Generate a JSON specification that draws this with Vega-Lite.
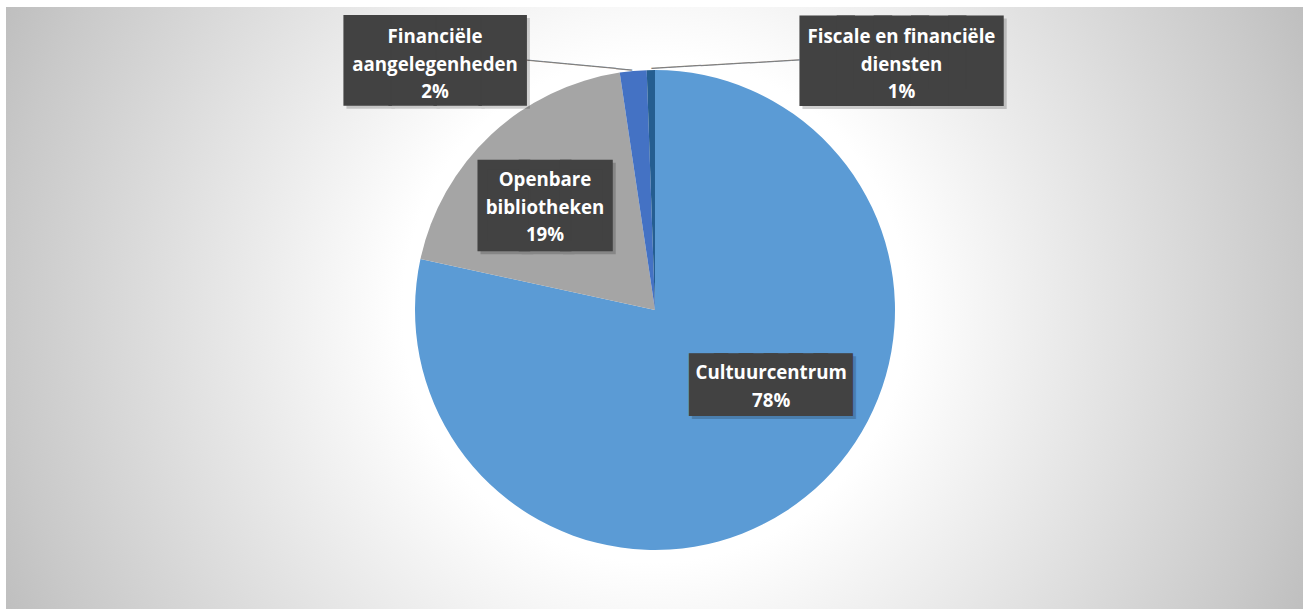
{
  "$schema": "https://vega.github.io/schema/vega-lite/v6.json",
  "width": 1298,
  "height": 606,
  "autosize": {"type": "none"},
  "padding": {"left": 6, "top": 7, "right": 0, "bottom": 0},
  "background": "#ffffff",
  "view": {
    "stroke": null,
    "fill": {
      "gradient": "radial",
      "x1": 0.5, "y1": 0.5, "r1": 0,
      "x2": 0.5, "y2": 0.5, "r2": 0.555,
      "stops": [
        {"offset": 0, "color": "#ffffff"},
        {"offset": 0.35, "color": "#ffffff"},
        {"offset": 0.9, "color": "#c9c9c9"},
        {"offset": 1, "color": "#bebebe"}
      ]
    }
  },
  "data": {
    "values": [
      {"categorie": "Cultuurcentrum", "etiket": "Cultuurcentrum", "waarde": 78.4},
      {"categorie": "Openbare bibliotheken", "etiket": "Openbare\nbibliotheken", "waarde": 19.25},
      {"categorie": "Financiële aangelegenheden", "etiket": "Financiële\naangelegenheden", "waarde": 1.8},
      {"categorie": "Fiscale en financiële diensten", "etiket": "Fiscale en financiële\ndiensten", "waarde": 0.55}
    ]
  },
  "transform": [
    {"stack": "waarde", "groupby": [], "sort": [{"field": "waarde", "order": "descending"}], "as": ["v0", "v1"]},
    {"calculate": "(datum.v0 + datum.v1) / 2", "as": "midden"},
    {"calculate": "datum.etiket + '\\n' + format(datum.waarde / 100, '.0%')", "as": "tekst"}
  ],
  "layer": [
    {
      "mark": {"type": "arc", "outerRadius": 240, "innerRadius": 0},
      "encoding": {
        "theta": {"field": "v0", "type": "quantitative", "scale": {"domain": [0, 100]}, "stack": null},
        "theta2": {"field": "v1"},
        "color": {
          "field": "categorie", "type": "nominal", "legend": null,
          "scale": {
            "domain": ["Cultuurcentrum", "Openbare bibliotheken", "Financiële aangelegenheden", "Fiscale en financiële diensten"],
            "range": ["#5B9BD5", "#A5A5A5", "#4472C4", "#255E91"]
          }
        }
      }
    },
    {
      "transform": [{"filter": "datum.categorie === 'Financiële aangelegenheden'"}],
      "mark": {"type": "text", "text": "─────────────", "font": "DejaVu Sans Mono", "fontSize": 13.5, "fill": "#808080", "radius": 245, "angle": 5.4, "dx": -53.05, "dy": 4.71, "align": "center", "baseline": "middle"},
      "encoding": {"theta": {"field": "midden", "type": "quantitative", "scale": {"domain": [0, 100]}, "stack": null}}
    },
    {
      "transform": [{"filter": "datum.categorie === 'Fiscale en financiële diensten'"}],
      "mark": {"type": "text", "text": "──────────────────", "font": "DejaVu Sans Mono", "fontSize": 13.66, "fill": "#808080", "radius": 245, "angle": -3.2, "dx": 74.63, "dy": 3.93, "align": "center", "baseline": "middle"},
      "encoding": {"theta": {"field": "midden", "type": "quantitative", "scale": {"domain": [0, 100]}, "stack": null}}
    },
    {
      "transform": [{"filter": "datum.categorie === 'Cultuurcentrum'"}],
      "mark": {"type": "text", "text": "██████", "font": "DejaVu Sans Mono", "fontSize": 41.4, "fill": "#000000", "stroke": "#000000", "strokeWidth": 13.8, "strokeJoin": "miter", "opacity": 0.18, "radius": 131, "dx": 37, "dy": -22.1, "align": "center", "baseline": "middle"},
      "encoding": {"theta": {"field": "midden", "type": "quantitative", "scale": {"domain": [0, 100]}, "stack": null}}
    },
    {
      "transform": [{"filter": "datum.categorie === 'Openbare bibliotheken'"}],
      "mark": {"type": "text", "text": "███", "font": "DejaVu Sans Mono", "fontSize": 68.5, "fill": "#000000", "stroke": "#000000", "strokeWidth": 10.2, "strokeJoin": "miter", "opacity": 0.18, "radius": 152, "dx": -3.1, "dy": 12.2, "align": "center", "baseline": "middle"},
      "encoding": {"theta": {"field": "midden", "type": "quantitative", "scale": {"domain": [0, 100]}, "stack": null}}
    },
    {
      "transform": [{"filter": "datum.categorie === 'Financiële aangelegenheden'"}],
      "mark": {"type": "text", "text": "████", "font": "DejaVu Sans Mono", "fontSize": 74.8, "fill": "#000000", "stroke": "#000000", "strokeWidth": 2, "strokeJoin": "miter", "opacity": 0.18, "radius": 250, "dx": -194.25, "dy": 5.9, "align": "center", "baseline": "middle"},
      "encoding": {"theta": {"field": "midden", "type": "quantitative", "scale": {"domain": [0, 100]}, "stack": null}}
    },
    {
      "transform": [{"filter": "datum.categorie === 'Fiscale en financiële diensten'"}],
      "mark": {"type": "text", "text": "█████", "font": "DejaVu Sans Mono", "fontSize": 61.8, "fill": "#000000", "stroke": "#000000", "strokeWidth": 17.1, "strokeJoin": "miter", "opacity": 0.18, "radius": 250, "dx": 253.8, "dy": 6.3, "align": "center", "baseline": "middle"},
      "encoding": {"theta": {"field": "midden", "type": "quantitative", "scale": {"domain": [0, 100]}, "stack": null}}
    },
    {
      "transform": [{"filter": "datum.categorie === 'Cultuurcentrum'"}],
      "mark": {"type": "text", "text": "██████", "font": "DejaVu Sans Mono", "fontSize": 41.4, "fill": "#424242", "stroke": "#424242", "strokeWidth": 13.8, "strokeJoin": "miter", "radius": 131, "dx": 34, "dy": -25.1, "align": "center", "baseline": "middle"},
      "encoding": {"theta": {"field": "midden", "type": "quantitative", "scale": {"domain": [0, 100]}, "stack": null}}
    },
    {
      "transform": [{"filter": "datum.categorie === 'Openbare bibliotheken'"}],
      "mark": {"type": "text", "text": "███", "font": "DejaVu Sans Mono", "fontSize": 68.5, "fill": "#424242", "stroke": "#424242", "strokeWidth": 10.2, "strokeJoin": "miter", "radius": 152, "dx": -6.1, "dy": 9.2, "align": "center", "baseline": "middle"},
      "encoding": {"theta": {"field": "midden", "type": "quantitative", "scale": {"domain": [0, 100]}, "stack": null}}
    },
    {
      "transform": [{"filter": "datum.categorie === 'Financiële aangelegenheden'"}],
      "mark": {"type": "text", "text": "████", "font": "DejaVu Sans Mono", "fontSize": 74.8, "fill": "#424242", "stroke": "#424242", "strokeWidth": 2, "strokeJoin": "miter", "radius": 250, "dx": -197.25, "dy": 2.9, "align": "center", "baseline": "middle"},
      "encoding": {"theta": {"field": "midden", "type": "quantitative", "scale": {"domain": [0, 100]}, "stack": null}}
    },
    {
      "transform": [{"filter": "datum.categorie === 'Fiscale en financiële diensten'"}],
      "mark": {"type": "text", "text": "█████", "font": "DejaVu Sans Mono", "fontSize": 61.8, "fill": "#424242", "stroke": "#424242", "strokeWidth": 17.1, "strokeJoin": "miter", "radius": 250, "dx": 250.8, "dy": 3.3, "align": "center", "baseline": "middle"},
      "encoding": {"theta": {"field": "midden", "type": "quantitative", "scale": {"domain": [0, 100]}, "stack": null}}
    },
    {
      "transform": [{"filter": "datum.categorie === 'Cultuurcentrum'"}],
      "mark": {"type": "text", "font": "Open Sans", "fontWeight": "bold", "fontSize": 18.7, "lineHeight": 28, "lineBreak": "\n", "fill": "#ffffff", "radius": 131, "dx": 34, "dy": -39, "align": "center", "baseline": "middle"},
      "encoding": {"theta": {"field": "midden", "type": "quantitative", "scale": {"domain": [0, 100]}, "stack": null}, "text": {"field": "tekst"}}
    },
    {
      "transform": [{"filter": "datum.categorie === 'Openbare bibliotheken'"}],
      "mark": {"type": "text", "font": "Open Sans", "fontWeight": "bold", "fontSize": 18.7, "lineHeight": 27.5, "lineBreak": "\n", "fill": "#ffffff", "radius": 152, "dx": -6.1, "dy": -19, "align": "center", "baseline": "middle"},
      "encoding": {"theta": {"field": "midden", "type": "quantitative", "scale": {"domain": [0, 100]}, "stack": null}, "text": {"field": "tekst"}}
    },
    {
      "transform": [{"filter": "datum.categorie === 'Financiële aangelegenheden'"}],
      "mark": {"type": "text", "font": "Open Sans", "fontWeight": "bold", "fontSize": 18.7, "lineHeight": 27.5, "lineBreak": "\n", "fill": "#ffffff", "radius": 250, "dx": -197.25, "dy": -24, "align": "center", "baseline": "middle"},
      "encoding": {"theta": {"field": "midden", "type": "quantitative", "scale": {"domain": [0, 100]}, "stack": null}, "text": {"field": "tekst"}}
    },
    {
      "transform": [{"filter": "datum.categorie === 'Fiscale en financiële diensten'"}],
      "mark": {"type": "text", "font": "Open Sans", "fontWeight": "bold", "fontSize": 18.7, "lineHeight": 27.5, "lineBreak": "\n", "fill": "#ffffff", "radius": 250, "dx": 250.8, "dy": -23, "align": "center", "baseline": "middle"},
      "encoding": {"theta": {"field": "midden", "type": "quantitative", "scale": {"domain": [0, 100]}, "stack": null}, "text": {"field": "tekst"}}
    }
  ]
}
